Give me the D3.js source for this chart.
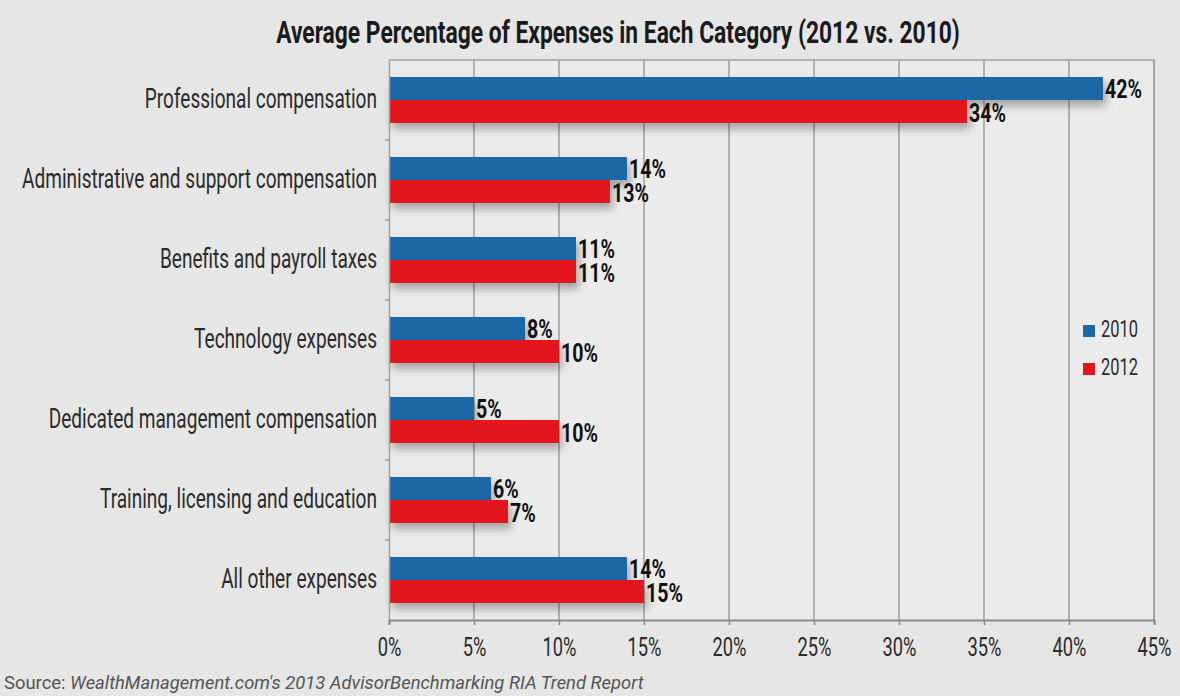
<!DOCTYPE html>
<html>
<head>
<meta charset="utf-8">
<script src="https://cdn.jsdelivr.net/npm/d3@7"></script>
<style>
  html, body { margin: 0; padding: 0; background: #e6e6e7; }
  svg { display: block; }
  text { font-family: Roboto, "Liberation Sans", sans-serif; }
</style>
</head>
<body>
<svg id="chart" width="1180" height="696"></svg>
<script>
const categories = [
  "Professional compensation",
  "Administrative and support compensation",
  "Benefits and payroll taxes",
  "Technology expenses",
  "Dedicated management compensation",
  "Training, licensing and education",
  "All other expenses"
];
const seriesNames = ["2010", "2012"];
const values2010 = [42, 14, 11, 8, 5, 6, 14];
const values2012 = [34, 13, 11, 10, 10, 7, 15];
const xTicks = [0, 5, 10, 15, 20, 25, 30, 35, 40, 45];
const titleText = "Average Percentage of Expenses in Each Category (2012 vs. 2010)";
const sourceLabel = "Source:";
const sourceText = "WealthManagement.com's 2013 AdvisorBenchmarking RIA Trend Report";

const colors = { "2010": "#1f68a6", "2012": "#e2141d" };

const svg = d3.select("#chart");
const W = 1180, H = 696;
const pLeft = 389, pRight = 1154, pTop = 60, pBottom = 620;

// horizontally condense text (the original uses a condensed typeface)
function condense(sel, k) {
  sel.each(function () {
    const t = d3.select(this);
    const x0 = +t.attr("x") || 0, y0 = +t.attr("y") || 0;
    t.attr("x", 0).attr("y", 0).attr("transform", `translate(${x0},${y0}) scale(${k},1)`);
  });
}
function widthOf(node) { return node.getComputedTextLength(); }

const defs = svg.append("defs");
const f = defs.append("filter").attr("id", "shadow").attr("x", "-5%").attr("y", "-30%").attr("width", "115%").attr("height", "200%");
f.append("feDropShadow").attr("dx", 3).attr("dy", 6).attr("stdDeviation", 4)
  .attr("flood-color", "#000").attr("flood-opacity", 0.3);

svg.append("rect").attr("width", W).attr("height", H).attr("fill", "#e6e6e7");

const x = d3.scaleLinear().domain([0, 45]).range([pLeft, pRight]);
const y = d3.scaleBand().domain(categories).range([pTop, pBottom]).paddingInner(0.425).paddingOuter(0.2125);
const ySub = d3.scaleBand().domain(seriesNames).range([0, y.bandwidth()]);

// plot background
svg.append("rect").attr("x", pLeft).attr("y", pTop).attr("width", pRight - pLeft).attr("height", pBottom - pTop)
  .attr("fill", "#ebebeb");

// gridlines
svg.append("g").selectAll("line").data(xTicks.slice(1)).join("line")
  .attr("x1", d => x(d)).attr("x2", d => x(d))
  .attr("y1", pTop).attr("y2", pBottom)
  .attr("stroke", "#8a8a8a").attr("stroke-width", 1.2);

// frame top/right
svg.append("path")
  .attr("d", `M${pLeft},${pTop}H${pRight}V${pBottom}`)
  .attr("fill", "none").attr("stroke", "#a0a0a0").attr("stroke-width", 1.5);

// title
const title = svg.append("text").attr("x", 618).attr("y", 43).attr("text-anchor", "middle")
  .attr("font-size", 32).attr("font-weight", "bold").attr("fill", "#1a1a1a")
  .text(titleText);
condense(title, 684 / widthOf(title.node()));

const rows = categories.map((c, i) => ({ c, i }));
const barsG = svg.append("g").attr("filter", "url(#shadow)");
barsG.selectAll("rect.b2012").data(rows).join("rect")
  .attr("x", x(0)).attr("y", d => y(d.c) + ySub("2012"))
  .attr("width", d => x(values2012[d.i]) - x(0)).attr("height", ySub.bandwidth())
  .attr("fill", colors["2012"]);
barsG.selectAll("rect.b2010").data(rows).join("rect")
  .attr("x", x(0)).attr("y", d => y(d.c) + ySub("2010"))
  .attr("width", d => x(values2010[d.i]) - x(0)).attr("height", ySub.bandwidth())
  .attr("fill", colors["2010"]);

// value labels
const labG = svg.append("g").attr("font-size", 25).attr("font-weight", "bold").attr("fill", "#111");
const l1 = labG.selectAll("text.l2010").data(rows).join("text")
  .attr("x", d => x(values2010[d.i]) + 2)
  .attr("y", d => y(d.c) + ySub("2010") + ySub.bandwidth() / 2 + 9.5)
  .text(d => values2010[d.i] + "%");
const l2 = labG.selectAll("text.l2012").data(rows).join("text")
  .attr("x", d => x(values2012[d.i]) + 2)
  .attr("y", d => y(d.c) + ySub("2012") + ySub.bandwidth() / 2 + 10)
  .text(d => values2012[d.i] + "%");
const kVal = 37 / widthOf(l1.nodes()[0]);
condense(l1, kVal); condense(l2, kVal);

// y axis
const yAxis = d3.axisLeft(y).tickSize(0).tickPadding(12);
const yg = svg.append("g").attr("transform", `translate(${pLeft},0)`).call(yAxis);
yg.attr("font-family", null).attr("font-size", 27);
yg.select(".domain").attr("stroke", "#a0a0a0").attr("stroke-width", 1.5);
const yTexts = yg.selectAll(".tick text").attr("fill", "#2b2b2b").attr("dy", "0.3em");
const kCat = 355 / widthOf(yTexts.nodes()[1]);
condense(yTexts, kCat);
// small separator ticks on y axis
const seps = categories.slice(1).map(c => y(c) - (y.step() - y.bandwidth()) / 2);
svg.append("g").selectAll("line").data(seps).join("line")
  .attr("x1", pLeft - 4).attr("x2", pLeft).attr("y1", d => d).attr("y2", d => d)
  .attr("stroke", "#a0a0a0").attr("stroke-width", 1.5);

// x axis
const xAxis = d3.axisBottom(x).tickValues(xTicks).tickFormat(d => d + "%").tickSize(5).tickPadding(12.5);
const xg = svg.append("g").attr("transform", `translate(0,${pBottom})`).call(xAxis);
xg.attr("font-family", null).attr("font-size", 26);
xg.select(".domain").attr("stroke", "#8a8a8a").attr("stroke-width", 2);
xg.selectAll(".tick line").attr("stroke", "#8a8a8a").attr("stroke-width", 1.5);
const xTexts = xg.selectAll(".tick text").attr("fill", "#2b2b2b");
const kTick = 34 / widthOf(xTexts.nodes()[xTexts.size() - 1]);
condense(xTexts, kTick);

// legend
const legend = svg.append("g").selectAll("g").data(seriesNames).join("g")
  .attr("transform", (d, i) => `translate(1083,${325 + i * 38})`);
legend.append("rect").attr("width", 12).attr("height", 12).attr("fill", d => colors[d]);
const legT = legend.append("text").attr("x", 18).attr("y", 12).attr("font-size", 23).attr("fill", "#2b2b2b").text(d => d);
condense(legT, 37 / widthOf(legT.nodes()[0]));

// source
const src = svg.append("text").attr("x", 4).attr("y", 689).attr("font-size", 19).attr("fill", "#555");
src.append("tspan").text(sourceLabel + "  ");
src.append("tspan").attr("font-style", "italic").text(sourceText);
condense(src, 640 / widthOf(src.node()));
</script>
</body>
</html>
